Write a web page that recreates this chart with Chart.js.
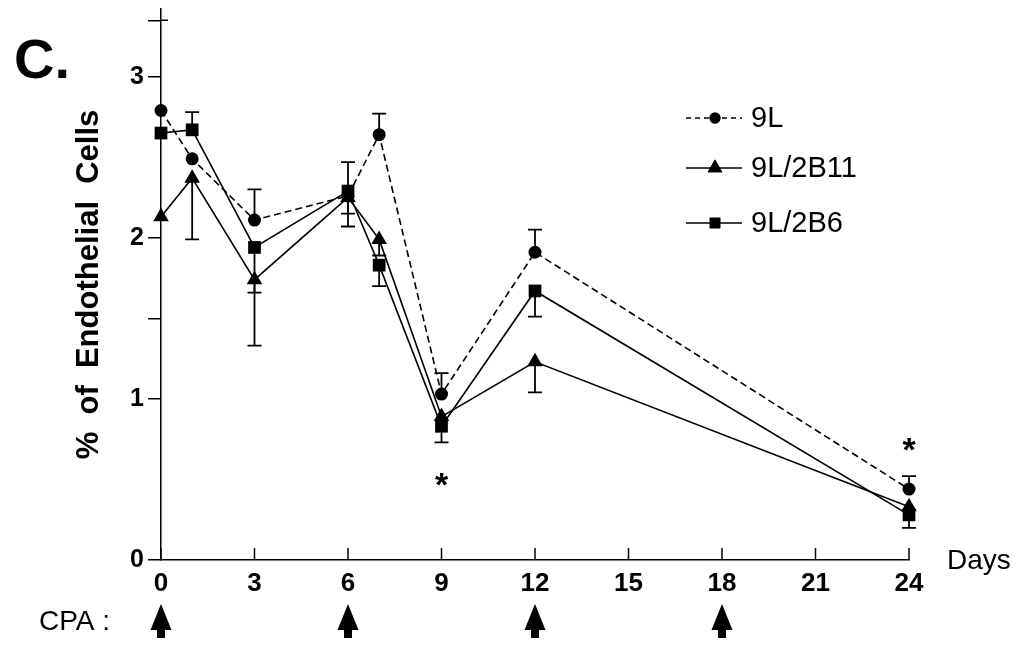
<!DOCTYPE html>
<html lang="en">
<head>
<meta charset="utf-8">
<title>% of Endothelial Cells</title>
<script src="https://cdn.jsdelivr.net/npm/chart.js@4"></script>
<style>
  body { margin: 0; background: #fff; }
  #wrap { width: 1019px; height: 645px; position: relative; }
</style>
</head>
<body>
<div id="wrap"><canvas id="chart"></canvas></div>
<script>
// days after start
const days = [0, 1, 3, 6, 7, 9, 12, 24];
const xTicks = [0, 3, 6, 9, 12, 15, 18, 21, 24];
const yTicks = [0, 1, 1.5, 2, 3, 3.35];
const cpaDays = [0, 6, 12, 18];
const starDays = [9, 24];
const starValues = [0.48, 0.70];

// 9L
const s9L = [2.79, 2.49, 2.11, 2.26, 2.64, 1.03, 1.91, 0.44];
const s9LUp = [0, 0, 0.19, 0, 0.13, 0.13, 0.14, 0.08];
const s9LDown = [0, 0, 0, 0.11, 0, 0, 0, 0];
// 9L/2B11
const s2B11 = [2.13, 2.37, 1.74, 2.25, 1.99, 0.89, 1.23, 0.33];
const s2B11Up = [0, 0, 0, 0, 0, 0, 0, 0];
const s2B11Down = [0, 0.38, 0.41, 0.18, 0.10, 0, 0.19, 0];
// 9L/2B6
const s2B6 = [2.65, 2.67, 1.94, 2.29, 1.83, 0.83, 1.67, 0.28];
const s2B6Up = [0, 0.11, 0, 0.18, 0, 0, 0, 0];
const s2B6Down = [0, 0, 0.28, 0, 0.13, 0.10, 0.16, 0.08];

const FONT = 'Liberation Sans, Arial, sans-serif';
Chart.defaults.font.family = FONT;
Chart.defaults.color = '#000';

function pts(vals) {
    return days.map((d, i) => ({ x: d, y: vals[i] }));
}

function makeSet(label, vals, up, down, style, radius, legendRadius, dash) {
    return {
        label: label,
        data: pts(vals),
        errUp: up,
        errDown: down,
        legendRadius: legendRadius,
        borderColor: '#000',
        backgroundColor: '#000',
        borderWidth: 1.6,
        borderDash: dash,
        pointStyle: style,
        pointRadius: radius,
        pointBorderWidth: 0,
        pointBackgroundColor: '#000',
        tension: 0,
        clip: false
    };
}

// error bars, legend, arrows and other annotations
const extras = {
    id: 'extras',
    beforeDatasetsDraw(chart) {
        const ctx = chart.ctx;
        const xs = chart.scales.x, ys = chart.scales.y;
        ctx.save();
        ctx.strokeStyle = '#000';
        ctx.lineWidth = 1.8;
        chart.data.datasets.forEach(ds => {
            ds.data.forEach((p, i) => {
                const px = xs.getPixelForValue(p.x);
                const py = ys.getPixelForValue(p.y);
                [[ds.errUp[i], 1], [ds.errDown[i], -1]].forEach(([e, dir]) => {
                    if (!e) return;
                    const ey = ys.getPixelForValue(p.y + dir * e);
                    ctx.beginPath();
                    ctx.moveTo(px, py);
                    ctx.lineTo(px, ey);
                    ctx.moveTo(px - 7, ey);
                    ctx.lineTo(px + 7, ey);
                    ctx.stroke();
                });
            });
        });
        ctx.restore();
    },
    afterDraw(chart) {
        const ctx = chart.ctx;
        const xs = chart.scales.x, ys = chart.scales.y;
        const area = chart.chartArea;
        ctx.save();
        ctx.strokeStyle = '#000';
        ctx.fillStyle = '#000';
        ctx.lineWidth = 1.5;

        // x ticks point up into the plot
        xTicks.forEach(v => {
            const px = xs.getPixelForValue(v);
            ctx.beginPath();
            ctx.moveTo(px, area.bottom);
            ctx.lineTo(px, area.bottom - 12);
            ctx.stroke();
        });
        // top y tick crosses the axis
        const topY = ys.getPixelForValue(yTicks[yTicks.length - 1]);
        ctx.beginPath();
        ctx.moveTo(area.left, topY);
        ctx.lineTo(area.left + 7, topY);
        ctx.stroke();

        // asterisks
        ctx.font = 'bold 34px ' + FONT;
        ctx.textAlign = 'center';
        ctx.textBaseline = 'middle';
        starDays.forEach((d, i) => {
            ctx.fillText('*', xs.getPixelForValue(d), ys.getPixelForValue(starValues[i]) + 4);
        });

        // legend
        const rows = [118, 168, 223];
        ctx.textAlign = 'left';
        ctx.font = '29px ' + FONT;
        chart.data.datasets.forEach((ds, i) => {
            const y = rows[i];
            ctx.beginPath();
            ctx.setLineDash(ds.borderDash.length ? [5, 4] : []);
            ctx.moveTo(686, y);
            ctx.lineTo(742, y);
            ctx.stroke();
            ctx.setLineDash([]);
            Chart.helpers.drawPoint(ctx, { pointStyle: ds.pointStyle, radius: ds.legendRadius, borderWidth: 0 }, 715, y);
            ctx.fill();
            ctx.fillText(ds.label, 751, y + 1);
        });

        // axis words
        ctx.font = '28px ' + FONT;
        ctx.fillText('Days', area.right + 38, area.bottom + 1);
        ctx.fillText('CPA :', 39, 622);
        ctx.font = 'bold 56px ' + FONT;
        ctx.textBaseline = 'alphabetic';
        ctx.fillText('C.', 14, 78);

        // CPA arrows
        cpaDays.forEach(d => {
            const px = xs.getPixelForValue(d);
            ctx.beginPath();
            ctx.moveTo(px, 604);
            ctx.lineTo(px + 10.5, 630);
            ctx.lineTo(px + 4, 630);
            ctx.lineTo(px + 4, 638);
            ctx.lineTo(px - 4, 638);
            ctx.lineTo(px - 4, 630);
            ctx.lineTo(px - 10.5, 630);
            ctx.closePath();
            ctx.fill();
        });
        ctx.restore();
    }
};

new Chart(document.getElementById('chart'), {
    type: 'line',
    data: {
        datasets: [
            makeSet('9L', s9L, s9LUp, s9LDown, 'circle', 6.5, 5.5, [7, 4]),
            makeSet('9L/2B11', s2B11, s2B11Up, s2B11Down, 'triangle', 9, 8.5, []),
            makeSet('9L/2B6', s2B6, s2B6Up, s2B6Down, 'rect', 9, 7.5, [])
        ]
    },
    options: {
        responsive: true,
        maintainAspectRatio: false,
        animation: false,
        layout: { padding: { top: 0, right: 110, left: 0, bottom: 0 } },
        plugins: { legend: { display: false }, tooltip: { enabled: false } },
        scales: {
            x: {
                type: 'linear',
                min: 0,
                max: 24,
                afterFit: s => { s.height = 85; s.paddingLeft = 0; s.paddingRight = 0; },
                afterBuildTicks: s => { s.ticks = xTicks.map(v => ({ value: v })); },
                grid: { drawOnChartArea: false, drawTicks: false },
                border: { color: '#000', width: 1.5 },
                ticks: { padding: 8, font: { size: 26, weight: 'bold' } }
            },
            y: {
                min: 0,
                max: 3.42,
                afterFit: s => { s.width = 161; s.paddingTop = 0; s.paddingBottom = 0; },
                afterBuildTicks: s => { s.ticks = yTicks.map(v => ({ value: v })); },
                grid: { drawOnChartArea: false, drawTicks: true, tickLength: 13, color: '#000', lineWidth: 1.5 },
                border: { color: '#000', width: 1.5 },
                ticks: {
                    padding: 4,
                    font: { size: 25, weight: 'bold' },
                    callback: v => Number.isInteger(v) ? v : ''
                },
                title: {
                    display: true,
                    text: '%  of  Endothelial  Cells',
                    font: { size: 31, weight: 'bold' },
                    padding: { top: 71, bottom: 0 }
                }
            }
        }
    },
    plugins: [extras]
});
</script>
</body>
</html>
